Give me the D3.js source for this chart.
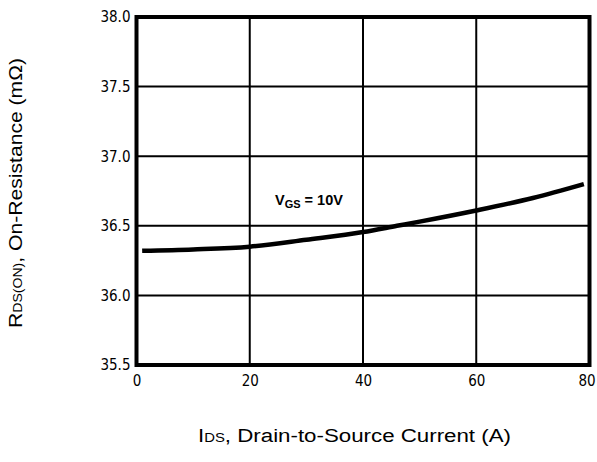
<!DOCTYPE html>
<html><head><meta charset="utf-8">
<script src="https://cdn.jsdelivr.net/npm/d3@7"></script>
<style>body{margin:0;background:#fff}</style>
</head><body>
<svg id="c" width="597" height="462"></svg>
<script>
const currentA = [1, 10, 20, 30, 40, 46, 50, 60, 70, 79];
const resistance = [36.32, 36.33, 36.35, 36.40, 36.455, 36.50, 36.53, 36.61, 36.70, 36.80];
const xTicks = [0, 20, 40, 60, 80];
const yTicks = [35.5, 36.0, 36.5, 37.0, 37.5, 38.0];

const svg = d3.select("#c");
const L = 136.5, R = 589.5, T = 17, B = 365;
const x = d3.scaleLinear().domain([0, 80]).range([L, R]);
const y = d3.scaleLinear().domain([35.5, 38.0]).range([B, T]);

// grid
svg.append("g").selectAll("line").data(xTicks.slice(1, -1)).join("line")
  .attr("x1", d => x(d)).attr("x2", d => x(d)).attr("y1", T).attr("y2", B)
  .attr("stroke", "#000").attr("stroke-width", 2);
svg.append("g").selectAll("line").data(yTicks.slice(1, -1)).join("line")
  .attr("y1", d => y(d)).attr("y2", d => y(d)).attr("x1", L).attr("x2", R)
  .attr("stroke", "#000").attr("stroke-width", 2);

// curve
svg.append("path")
  .datum(currentA.map((c, i) => [c, resistance[i]]))
  .attr("d", d3.line().x(d => x(d[0])).y(d => y(d[1])).curve(d3.curveMonotoneX))
  .attr("fill", "none").attr("stroke", "#000").attr("stroke-width", 4.5);

// border
svg.append("rect").attr("x", L).attr("y", T).attr("width", R - L).attr("height", B - T)
  .attr("fill", "none").attr("stroke", "#000").attr("stroke-width", 4);

// axes (labels only)
const tickFont = "'DejaVu Sans Condensed', 'DejaVu Sans', sans-serif";
const xAxis = svg.append("g").attr("transform", `translate(0,${B})`)
  .call(d3.axisBottom(x).tickValues(xTicks).tickSize(0).tickPadding(10).tickFormat(d3.format("d")));
const yAxis = svg.append("g").attr("transform", `translate(${L},0)`)
  .call(d3.axisLeft(y).tickValues(yTicks).tickSize(0).tickPadding(6).tickFormat(d3.format(".1f")));
[xAxis, yAxis].forEach(a => {
  a.select(".domain").remove();
  a.selectAll("text").attr("font-family", tickFont).attr("font-size", 15).attr("fill", "#000");
});
xAxis.selectAll("text").filter(d => d === 80).attr("dx", -3);

// annotation
const ann = svg.append("text").attr("x", 275).attr("y", 205)
  .attr("font-family", "'Liberation Sans', Arial, sans-serif").attr("font-weight", "bold")
  .attr("font-size", 14.5).attr("fill", "#000");
ann.append("tspan").text("V");
ann.append("tspan").attr("font-size", 11).attr("dy", 3).text("GS");
ann.append("tspan").attr("dy", -3).text(" = 10V");

// axis titles
const xt = svg.append("text").attr("x", 198).attr("y", 442)
  .attr("textLength", 313).attr("lengthAdjust", "spacingAndGlyphs")
  .attr("font-family", "'Liberation Sans', Arial, sans-serif").attr("font-size", 18).attr("fill", "#000");
xt.append("tspan").text("I");
xt.append("tspan").attr("font-size", 12).text("DS");
xt.append("tspan").text(", Drain-to-Source Current (A)");

const yt = svg.append("text").attr("transform", "translate(22,328) rotate(-90)")
  .attr("textLength", 270).attr("lengthAdjust", "spacingAndGlyphs")
  .attr("font-family", "'Liberation Sans', Arial, sans-serif").attr("font-size", 18).attr("fill", "#000");
yt.append("tspan").text("R");
yt.append("tspan").attr("font-size", 12).text("DS(ON)");
yt.append("tspan").text(", On-Resistance (mΩ)");
</script>
</body></html>
